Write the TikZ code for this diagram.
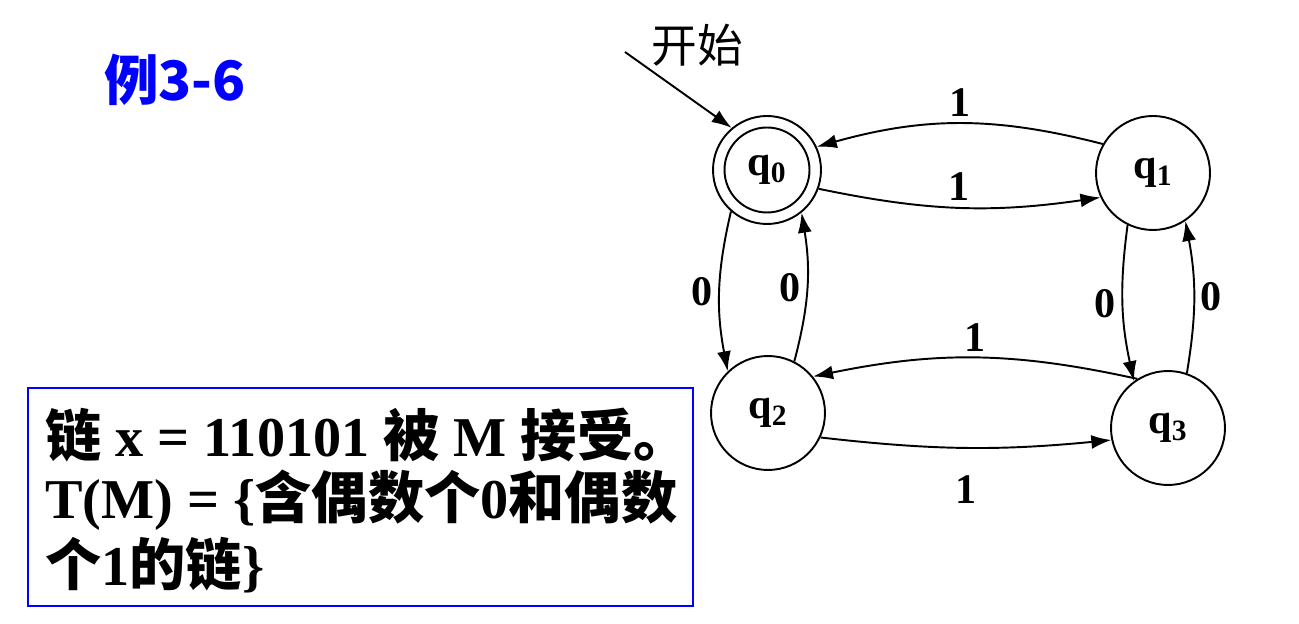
\documentclass[tikz,border=0pt]{standalone}
\usepackage{fontspec}
\setmainfont{Liberation Serif}
\newfontfamily\cjk{Noto Sans CJK SC}
\usetikzlibrary{arrows.meta}
\newcommand{\zh}[1]{{\cjk #1}}
\tikzset{
  state/.style={draw, circle, line width=1.1pt, minimum size=2.28cm, inner sep=0pt, font=\fontsize{24}{28}\selectfont\bfseries},
  trans/.style={-{Latex[length=4mm,width=2.8mm]}, line width=1.1pt},
  lbl/.style={font=\fontsize{24}{28}\selectfont\bfseries}
}
\begin{document}
\begin{tikzpicture}[x=0.02cm,y=-0.02cm]
\useasboundingbox (0,0) rectangle (1299,624);
%\draw[help lines] (0,0) grid[step=50] (1299,624);
\node[text=blue, font=\fontsize{31}{34}\selectfont\cjk\bfseries] (title) at (175,80) {例3-6};
% states
\node[state, minimum size=2.16cm] (q0) at (767,170) {q$_\mathbf{0}$};
\node[draw, circle, line width=1.1pt, minimum size=1.7cm] (q0in) at (767,170) {};
\node[state] (q1) at (1153,173) {q$_\mathbf{1}$};
\node[state] (q2) at (768,413) {q$_\mathbf{2}$};
\node[state] (q3) at (1168,428) {q$_\mathbf{3}$};
% start
\coordinate (start) at (625,52);
\node[font=\fontsize{26}{30}\selectfont\cjk] (lstart) at (697,45) {开始};
\draw[trans] (start) -- (q0.130);
% transitions
\draw[trans] (q1.150) to[bend right=15] node[lbl, above] {1} (q0.25);
\draw[trans] (q0.-20) to[bend right=10] node[lbl, above] {1} (q1.-155);
\draw[trans] (q0.229) to[bend right=12] node[lbl, left] {0} (q2.134);
\draw[trans] (q2.63) to[bend right=12] node[lbl, left] {0} (q0.-51);
\draw[trans] (q1.244) to[bend right=10] node[lbl, left] {0} (q3.126);
\draw[trans] (q3.71) to[bend right=10] node[lbl, right] {0} (q1.-56);
\draw[trans] (q3.122) to[bend right=12] node[lbl, above] {1} (q2.39);
\draw[trans] (q2.-25) to[bend right=6] node[lbl, below=12] {1} (q3.-168);
% result box
\draw[blue, line width=1.3pt] (28,388) rectangle (693,606);
\begin{scope}[every node/.style={anchor=west, inner sep=0pt, font=\fontsize{32}{36}\selectfont\bfseries}]
\node (line1) at (45,435) {\zh{链} x = 110101 \zh{被} M \zh{接受。}};
\node (line2) at (45,500) {T(M) = \{\zh{含偶数个}0\zh{和偶数}};
\node (line3) at (45,565) {\zh{个}1\zh{的链}\}};
\end{scope}
\end{tikzpicture}
\end{document}
